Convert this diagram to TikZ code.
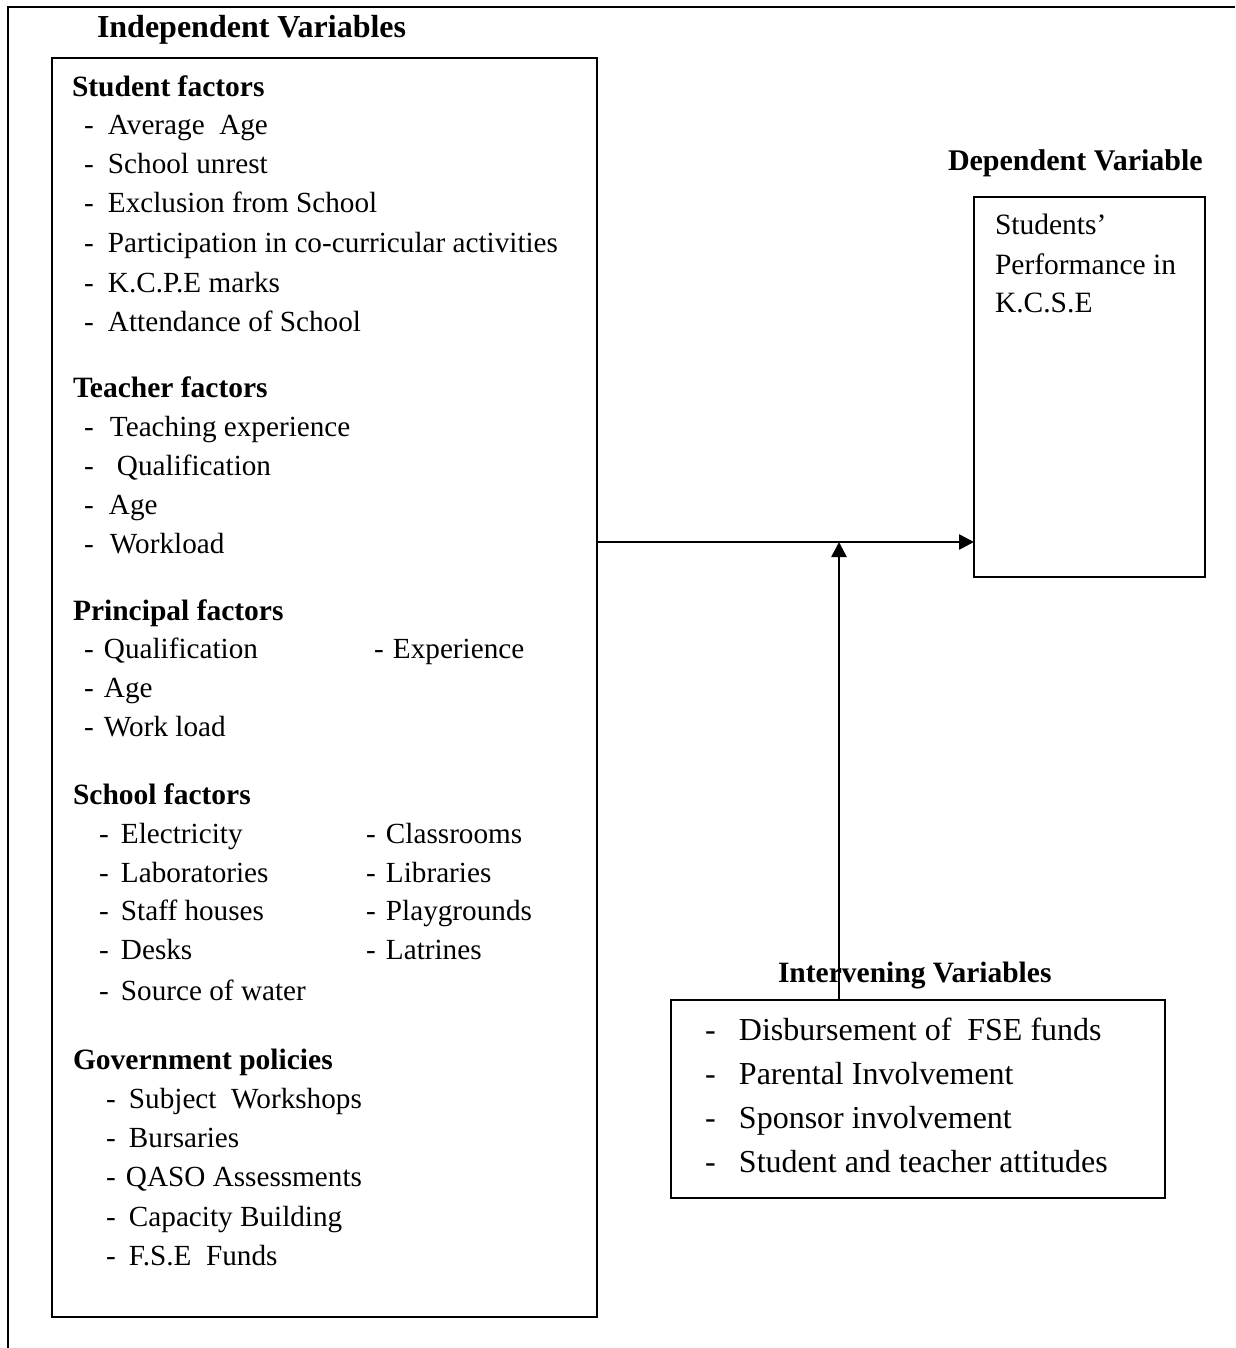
\documentclass[tikz,border=0pt]{standalone}
\usepackage{fontspec}
\setmainfont{Liberation Serif}
\usetikzlibrary{arrows.meta}
\newcommand{\ditem}[2]{\makebox[#1pt][l]{-}#2}
\tikzset{
  frameline/.style={line width=2.2pt},
  boxshape/.style={draw, line width=2.2pt, rectangle, inner sep=0pt, outer sep=0pt, anchor=north west},
  txt/.style={anchor=base west, inner sep=0pt, outer sep=0pt, font=\fontsize{29.2}{35}\selectfont},
  head/.style={anchor=base west, inner sep=0pt, outer sep=0pt, font=\fontsize{29.5}{35}\selectfont\bfseries},
  bighead/.style={anchor=base west, inner sep=0pt, outer sep=0pt, font=\fontsize{32}{38}\selectfont\bfseries},
  ivtxt/.style={anchor=base west, inner sep=0pt, outer sep=0pt, font=\fontsize{32}{38}\selectfont},
  deptxt/.style={anchor=base west, inner sep=0pt, outer sep=0pt, font=\fontsize{29.5}{35}\selectfont},
  arrowline/.style={line width=2.6pt, -{Triangle[length=15pt,width=15pt]}}
}
\begin{document}
\begin{tikzpicture}[x=1pt,y=-1pt]
\useasboundingbox (0,0) rectangle (1235,1348);
% outer frame
\draw[frameline] (8,1348) -- (8,7) -- (1235,7);

% boxes
\node[boxshape, minimum width=545pt, minimum height=1259pt] (indep) at (52,58) {};
\node[boxshape, minimum width=231pt, minimum height=380pt] (dep) at (974,197) {};
\node[boxshape, minimum width=494pt, minimum height=198pt] (interv) at (671,1000) {};

% titles
\node[bighead] (tindep) at (97,38) {Independent Variables};
\node[head, font=\fontsize{30}{36}\selectfont\bfseries] (tdep) at (948,171) {Dependent Variable};
\node[head] (tint) at (778,982) {Intervening Variables};

% student factors
\node[head] (hs) at (72,97) {Student factors};
\node[txt] (s1) at (84,135) {\ditem{24}{Average\ \ Age}};
\node[txt] (s2) at (84,174) {\ditem{24}{School unrest}};
\node[txt] (s3) at (84,213) {\ditem{24}{Exclusion from School}};
\node[txt] (s4) at (84,253) {\ditem{24}{Participation in co-curricular activities}};
\node[txt] (s5) at (84,292) {\ditem{24}{K.C.P.E marks}};
\node[txt] (s6) at (84,331) {\ditem{24}{Attendance of School}};

% teacher factors
\node[head] (ht) at (73,397) {Teacher factors};
\node[txt] (t1) at (84,436) {\ditem{26}{Teaching experience}};
\node[txt] (t2) at (84,475) {\ditem{33}{Qualification}};
\node[txt] (t3) at (84,514) {\ditem{25}{Age}};
\node[txt] (t4) at (84,553) {\ditem{26}{Workload}};

% principal factors
\node[head] (hp) at (73,620) {Principal factors};
\node[txt] (p1) at (84,658) {\ditem{20}{Qualification}};
\node[txt] (p2) at (374,658) {\ditem{19}{Experience}};
\node[txt] (p3) at (84,697) {\ditem{20}{Age}};
\node[txt] (p4) at (84,736) {\ditem{20}{Work load}};

% school factors
\node[head] (hsc) at (73,804) {School factors};
\node[txt] (c1) at (99,843) {\ditem{22}{Electricity}};
\node[txt] (c2) at (99,882) {\ditem{22}{Laboratories}};
\node[txt] (c3) at (99,920) {\ditem{22}{Staff houses}};
\node[txt] (c4) at (99,959) {\ditem{22}{Desks}};
\node[txt] (c5) at (99,1000) {\ditem{22}{Source of water}};
\node[txt] (d1) at (366,843) {\ditem{20}{Classrooms}};
\node[txt] (d2) at (366,882) {\ditem{20}{Libraries}};
\node[txt] (d3) at (366,920) {\ditem{20}{Playgrounds}};
\node[txt] (d4) at (366,959) {\ditem{20}{Latrines}};

% government policies
\node[head] (hg) at (73,1069) {Government policies};
\node[txt] (g1) at (106,1108) {\ditem{23}{Subject\ \ Workshops}};
\node[txt] (g2) at (106,1147) {\ditem{23}{Bursaries}};
\node[txt] (g3) at (106,1186) {\ditem{20}{QASO Assessments}};
\node[txt] (g4) at (106,1226) {\ditem{23}{Capacity Building}};
\node[txt] (g5) at (106,1265) {\ditem{23}{F.S.E\ \ Funds}};

% dependent text
\node[deptxt] (dp1) at (995,235) {Students’};
\node[deptxt] (dp2) at (995,274) {Performance in};
\node[deptxt] (dp3) at (995,312) {K.C.S.E};

% intervening items
\node[ivtxt] (i1) at (705,1040) {\ditem{34}{Disbursement of\ \ FSE funds}};
\node[ivtxt] (i2) at (705,1084) {\ditem{34}{Parental Involvement}};
\node[ivtxt] (i3) at (705,1128) {\ditem{34}{Sponsor involvement}};
\node[ivtxt] (i4) at (705,1172) {\ditem{34}{Student and teacher attitudes}};

% connectors
\coordinate (join) at (839,542);
\draw[arrowline] (indep.east |- join) -- (dep.west |- join);
\draw[arrowline] (interv.north -| join) -- (join);
\end{tikzpicture}
\end{document}
